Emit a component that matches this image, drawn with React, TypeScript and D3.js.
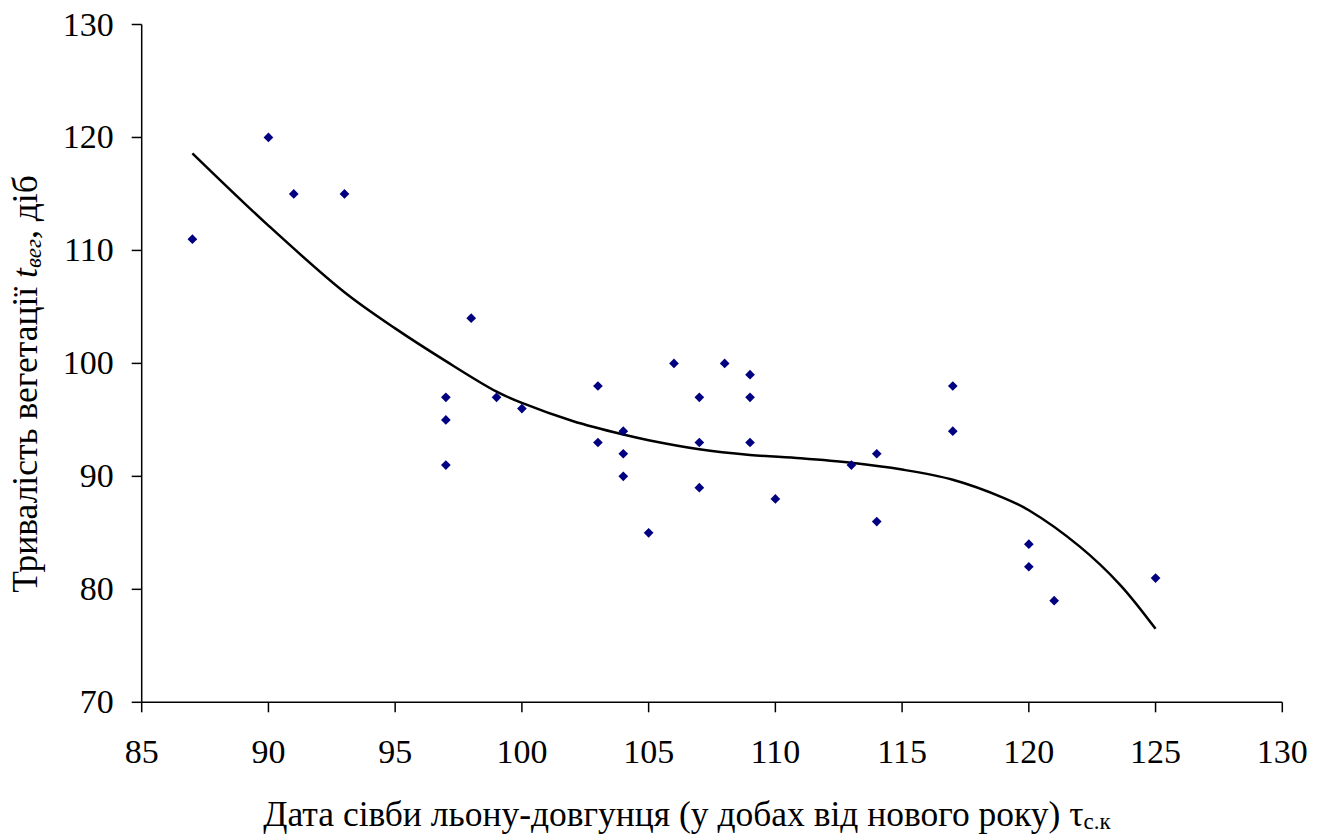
import React from "react";
import * as d3 from "d3";

// Sowing date (days from New Year) and vegetation period (days)
const sowingDays = [87, 90, 91, 93, 97, 97, 97, 98, 99, 100, 103, 103, 104, 104, 104, 105, 106, 107, 107, 107, 108, 109, 109, 109, 110, 113, 114, 114, 117, 117, 120, 120, 121, 125];
const vegetationDays = [111, 120, 115, 115, 97, 95, 91, 104, 97, 96, 98, 93, 94, 92, 90, 85, 100, 97, 93, 89, 100, 99, 97, 93, 88, 91, 92, 86, 98, 94, 84, 82, 79, 81];

// Trend line samples
const trendX = [87, 90, 93, 95, 97, 99, 100, 102, 104, 105, 107, 109, 111, 113, 115, 117, 119, 120, 122, 123.6, 125];
const trendY = [118.6, 112.2, 106.3, 103.1, 100.2, 97.5, 96.5, 94.9, 93.7, 93.2, 92.4, 91.9, 91.6, 91.2, 90.6, 89.7, 88.1, 87.0, 83.8, 80.4, 76.5];

const xTicks = [85, 90, 95, 100, 105, 110, 115, 120, 125, 130];
const yTicks = [70, 80, 90, 100, 110, 120, 130];

const W = 1325;
const H = 835;
const FONT = "Liberation Serif";

const x = d3.scaleLinear().domain([85, 130]).range([141.7, 1282.3]);
const y = d3.scaleLinear().domain([70, 130]).range([702.3, 24.5]);

const trendPath = d3
  .line<number>()
  .x((d) => x(d))
  .y((_, i) => y(trendY[i]))
  .curve(d3.curveCatmullRom.alpha(0.5))(trendX) as string;

const diamond = d3.symbol().type(d3.symbolDiamond2).size(60)() as string;

const tickStyle: React.CSSProperties = { fontFamily: FONT, fontSize: "34px" };
const titleStyle: React.CSSProperties = { fontFamily: FONT, fontSize: "35.5px" };

export default function App() {
  const x0 = x(85);
  const y0 = y(70);
  return (
    <div style={{ position: "absolute", left: 0, top: 0 }}>
      <svg width={W} height={H} style={{ display: "block", background: "#fff" }}>
        {/* axes */}
        <line x1={x0} x2={x(130)} y1={y0} y2={y0} stroke="#000" strokeWidth={1.5} />
        <line x1={x0} x2={x0} y1={y(130)} y2={y0} stroke="#000" strokeWidth={1.5} />
        {xTicks.map((t) => (
          <g key={`x${t}`}>
            <line x1={x(t)} x2={x(t)} y1={y0} y2={y0 + 10} stroke="#000" strokeWidth={1.5} />
            <text x={x(t)} y={y0 + 61} textAnchor="middle" style={tickStyle} fill="#000">
              {t}
            </text>
          </g>
        ))}
        {yTicks.map((t) => (
          <g key={`y${t}`}>
            <line x1={x0 - 10} x2={x0} y1={y(t)} y2={y(t)} stroke="#000" strokeWidth={1.5} />
            <text x={x0 - 28} y={y(t) + 11} textAnchor="end" style={tickStyle} fill="#000">
              {t}
            </text>
          </g>
        ))}

        {/* trend line */}
        <path d={trendPath} fill="none" stroke="#000" strokeWidth={2.5} />

        {/* observations */}
        {sowingDays.map((d, i) => (
          <path key={i} d={diamond} transform={`translate(${x(d)},${y(vegetationDays[i])})`} fill="#000080" />
        ))}

        {/* axis titles */}
        <text x={687} y={826} textAnchor="middle" style={titleStyle} fill="#000">
          Дата сівби льону-довгунця (у добах від нового року) τ
          <tspan style={{ fontSize: "23px" }} dy={3}>с.к</tspan>
        </text>
        <text transform="translate(37,384) rotate(-90)" textAnchor="middle" style={titleStyle} fill="#000">
          Тривалість вегетації <tspan style={{ fontStyle: "italic" }}>t</tspan>
          <tspan style={{ fontStyle: "italic", fontSize: "23px" }} dy={4}>вег</tspan>
          <tspan dy={-4}>, діб</tspan>
        </text>
      </svg>
    </div>
  );
}
